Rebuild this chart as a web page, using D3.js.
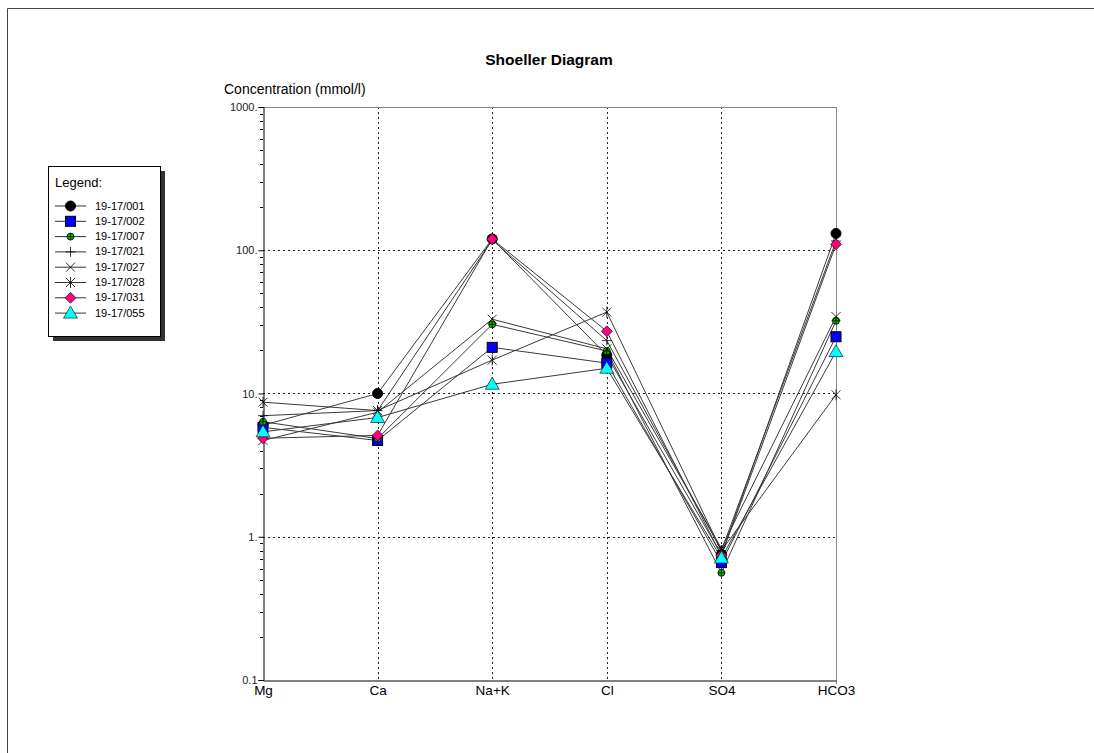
<!DOCTYPE html>
<html>
<head>
<meta charset="utf-8">
<script src="https://cdn.jsdelivr.net/npm/d3@7"></script>
<style>
  html, body { margin: 0; padding: 0; background: #fff; }
  svg { display: block; font-family: "Liberation Sans", Arial, sans-serif; }
</style>
</head>
<body>
<svg id="chart" width="1094" height="753"></svg>
<script>
// Ions along the horizontal axis
const ions = ["Mg", "Ca", "Na+K", "Cl", "SO4", "HCO3"];

// Sample identifiers
const samples = ["19-17/001", "19-17/002", "19-17/007", "19-17/021", "19-17/027", "19-17/028", "19-17/031", "19-17/055"];

// Concentrations (mmol/l) per sample, in ion order
const s001 = [6.0, 10.0, 120, 18.5, 0.75, 131];
const s002 = [5.8, 4.7, 21, 16.3, 0.66, 24.9];
const s007 = [6.35, 4.85, 30.4, 19.8, 0.56, 32.2];
const s021 = [7.0, 7.6, 118, 23.4, 0.80, 116];
const s027 = [4.7, 7.4, 33, 20.5, 0.83, 34.4];
const s028 = [8.7, 7.6, 17.1, 37, 0.80, 9.8];
const s031 = [4.87, 5.1, 119.7, 27.2, 0.74, 110];
const s055 = [5.4, 6.8, 11.6, 15.0, 0.71, 19.6];

// Y-axis tick values and labels
const yTicks = [0.1, 1, 10, 100, 1000];
const yTickLabels = ["0.1", "1.", "10.", "100.", "1000."];

const seriesValues = [s001, s002, s007, s021, s027, s028, s031, s055];
const markerTypes = ["circle", "square", "smallcircle", "plus", "cross", "star", "diamond", "triangle"];
const markerFills = ["#000000", "#0000ff", "#00c000", "none", "none", "none", "#ff0080", "#00ffff"];

const svg = d3.select("#chart");

// page frame
svg.append("line").attr("x1", 7.5).attr("x2", 1094).attr("y1", 8.5).attr("y2", 8.5)
  .attr("stroke", "#444").attr("stroke-width", 1);
svg.append("line").attr("x1", 7.5).attr("x2", 7.5).attr("y1", 8.5).attr("y2", 753)
  .attr("stroke", "#444").attr("stroke-width", 1);

const plot = { left: 263, right: 836, top: 107, bottom: 680 };

const x = d3.scalePoint().domain(ions).range([plot.left, plot.right]);
const y = d3.scaleLog().domain([0.1, 1000]).range([plot.bottom, plot.top]);

// title and axis caption
svg.append("text").attr("x", 549).attr("y", 65).attr("text-anchor", "middle")
  .attr("font-size", 15.5).attr("font-weight", "bold").text("Shoeller Diagram");
svg.append("text").attr("x", 224).attr("y", 94)
  .attr("font-size", 14).text("Concentration (mmol/l)");

// grid lines
const grid = svg.append("g").attr("stroke", "#222").attr("stroke-width", 1)
  .attr("stroke-dasharray", "2,3").attr("shape-rendering", "crispEdges");
ions.slice(1, -1).forEach(ion => {
  grid.append("line").attr("x1", x(ion) + 0.5).attr("x2", x(ion) + 0.5)
    .attr("y1", plot.top).attr("y2", plot.bottom);
});
yTicks.slice(1, -1).forEach(v => {
  grid.append("line").attr("x1", plot.left).attr("x2", plot.right)
    .attr("y1", Math.round(y(v)) + 0.5).attr("y2", Math.round(y(v)) + 0.5);
});

// top and right frame lines
svg.append("line").attr("x1", plot.left).attr("x2", plot.right)
  .attr("y1", plot.top + 0.5).attr("y2", plot.top + 0.5).attr("stroke", "#888");
svg.append("line").attr("x1", plot.right + 0.5).attr("x2", plot.right + 0.5)
  .attr("y1", plot.top).attr("y2", plot.bottom + 4).attr("stroke", "#888");

// left axis (log)
const yAxis = d3.axisLeft(y).tickValues(yTicks)
  .tickFormat((d, i) => yTickLabels[i]).tickSize(5).tickPadding(1);
const gy = svg.append("g").attr("transform", `translate(${plot.left + 0.5},0)`).call(yAxis);
gy.select(".domain").attr("stroke", "#000");
gy.selectAll("text").attr("font-size", 11).attr("font-family", "Liberation Sans, Arial, sans-serif")
  .attr("fill", "#222");

// minor ticks on the log axis
const minor = [];
for (let dec = 0.1; dec < 1000; dec *= 10) {
  for (let k = 2; k <= 9; k++) minor.push(dec * k);
}
svg.append("g").selectAll("line").data(minor).join("line")
  .attr("x1", plot.left - 3).attr("x2", plot.left)
  .attr("y1", d => Math.round(y(d)) + 0.5).attr("y2", d => Math.round(y(d)) + 0.5)
  .attr("stroke", "#000");

// bottom axis
const xAxis = d3.axisBottom(x).tickSize(0).tickPadding(5);
const gx = svg.append("g").attr("transform", `translate(0,${plot.bottom + 0.5})`).call(xAxis);
gx.select(".domain").attr("stroke", "#000");
gx.selectAll("text").attr("font-size", 13.5).attr("font-family", "Liberation Sans, Arial, sans-serif")
  .attr("fill", "#000");

// marker drawing
function drawMarker(g, type, fill, cx, cy) {
  const m = g.append("g").attr("transform", `translate(${cx},${cy})`);
  switch (type) {
    case "circle":
      m.append("circle").attr("r", 5).attr("fill", fill).attr("stroke", "#000");
      break;
    case "square":
      m.append("rect").attr("x", -5).attr("y", -5).attr("width", 10).attr("height", 10)
        .attr("fill", fill).attr("stroke", "#000");
      break;
    case "smallcircle":
      m.append("circle").attr("r", 3.5).attr("fill", fill).attr("stroke", "#000").attr("stroke-width", 0.8);
      m.append("path").attr("d", "M-3.5,0H3.5M0,-3.5V3.5").attr("stroke", "#000").attr("stroke-width", 0.8);
      break;
    case "plus":
      m.append("path").attr("d", "M-5,0H5M0,-5V5").attr("stroke", "#000").attr("stroke-width", 0.8);
      break;
    case "cross":
      m.append("path").attr("d", "M-4.5,-4.5L4.5,4.5M-4.5,4.5L4.5,-4.5").attr("stroke", "#000").attr("stroke-width", 0.8);
      break;
    case "star":
      m.append("path").attr("d", "M-4.5,-4.5L4.5,4.5M-4.5,4.5L4.5,-4.5M0,-5.5V5.5").attr("stroke", "#000").attr("stroke-width", 0.8);
      break;
    case "diamond":
      m.append("path").attr("d", "M0,-5.5L5.5,0L0,5.5L-5.5,0Z").attr("fill", fill).attr("stroke", "#000").attr("stroke-width", 0.6);
      break;
    case "triangle":
      m.append("path").attr("d", "M0,-7L7,5H-7Z").attr("fill", fill).attr("stroke", "#000").attr("stroke-width", 0.6);
      break;
  }
}

// series lines
const line = d3.line().x((d, i) => x(ions[i])).y(d => y(d));
const lines = svg.append("g");
seriesValues.forEach(vals => {
  lines.append("path").attr("d", line(vals)).attr("fill", "none")
    .attr("stroke", "#3a3a3a").attr("stroke-width", 1);
});

// series markers
const marks = svg.append("g");
seriesValues.forEach((vals, s) => {
  vals.forEach((v, i) => drawMarker(marks, markerTypes[s], markerFills[s], x(ions[i]), y(v)));
});

// legend
const lg = svg.append("g");
lg.append("rect").attr("x", 53).attr("y", 171).attr("width", 112).attr("height", 170).attr("fill", "#333");
lg.append("rect").attr("x", 48.5).attr("y", 166.5).attr("width", 112).attr("height", 170)
  .attr("fill", "#fff").attr("stroke", "#000");
lg.append("text").attr("x", 55).attr("y", 187).attr("font-size", 13).text("Legend:");
samples.forEach((name, s) => {
  const ly = 206 + s * 15.3;
  lg.append("line").attr("x1", 55).attr("x2", 86).attr("y1", ly).attr("y2", ly)
    .attr("stroke", "#333");
  drawMarker(lg, markerTypes[s], markerFills[s], 70.5, ly);
  lg.append("text").attr("x", 95).attr("y", ly + 3.5).attr("font-size", 11).text(name);
});
</script>
</body>
</html>
